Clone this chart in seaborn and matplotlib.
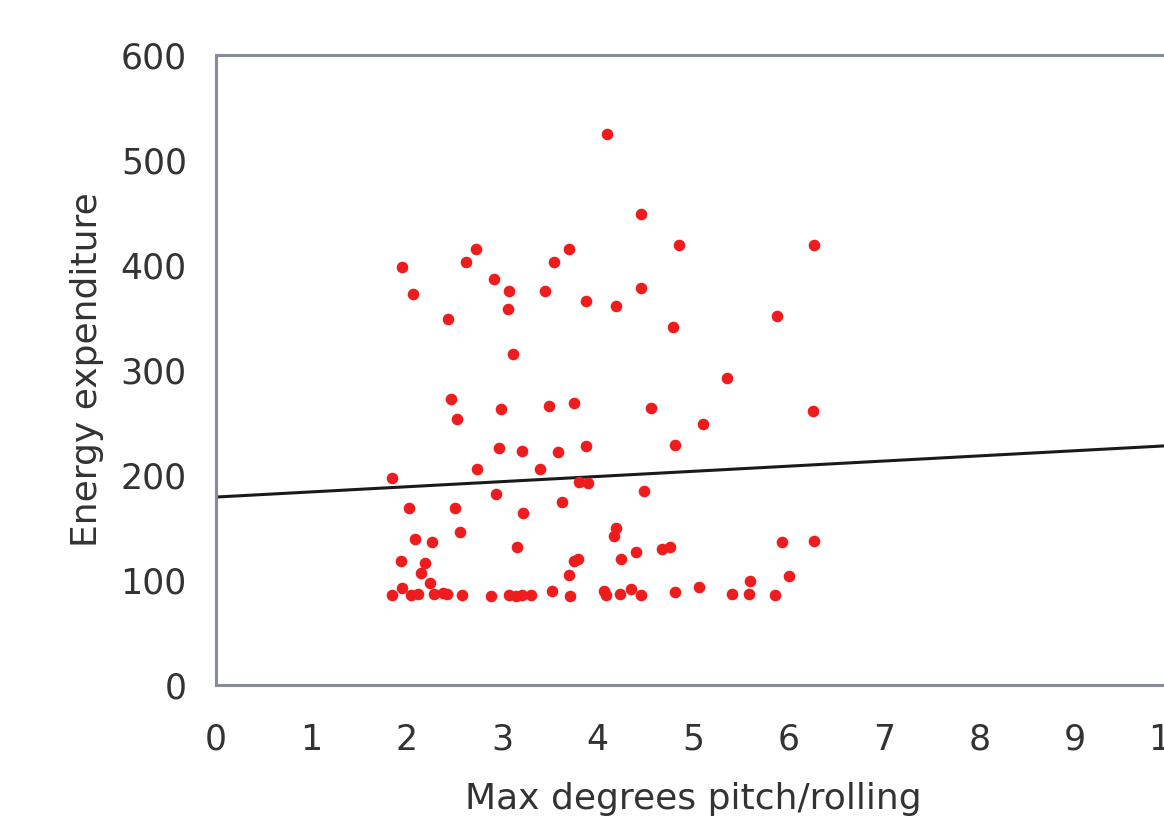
import matplotlib
matplotlib.use("Agg")
import matplotlib.pyplot as plt
import seaborn as sns

# values
pitch = [4.10, 1.95, 2.07, 2.43, 2.62, 2.73, 2.91, 3.07, 3.06, 3.45, 3.54, 3.70,
         3.88, 4.19, 4.46, 4.85, 6.27, 4.45, 4.79, 5.88,
         3.11, 2.46, 2.99, 3.49, 3.75, 2.53, 2.97, 3.21, 3.59, 3.88, 2.74, 3.40,
         1.85, 3.81, 3.90, 2.93, 2.02, 2.51, 3.63, 3.22, 2.56, 2.09, 2.26, 3.16,
         4.19, 4.17, 1.94, 2.19, 2.15, 3.79, 3.75, 3.70, 2.24, 1.95,
         1.85, 2.04, 2.12, 2.28, 2.38, 2.42, 2.58, 2.88, 3.07, 3.14, 3.21, 3.30,
         3.52, 3.71,
         5.36, 4.56, 6.26, 5.11, 4.81, 4.49, 4.25, 4.40, 4.67, 4.76, 5.93, 6.27,
         6.01, 5.60, 4.07, 4.09, 4.24, 4.35, 4.46, 4.81, 5.06, 5.41, 5.59, 5.86]
energy = [525, 398, 372, 349, 403, 415, 387, 375, 358, 375, 403, 415,
          366, 361, 449, 419, 419, 378, 341, 351,
          315, 272, 263, 266, 269, 253, 226, 223, 222, 228, 206, 206,
          197, 193, 192, 182, 169, 169, 174, 164, 146, 139, 136, 131,
          150, 142, 118, 116, 107, 120, 118, 105, 97, 92,
          86, 86, 87, 87, 88, 87, 86, 85, 86, 85, 86, 86,
          90, 85,
          292, 264, 261, 249, 229, 185, 120, 127, 130, 131, 136, 137,
          104, 99, 90, 86, 87, 91, 86, 89, 93, 87, 87, 86]

# trend line end points
line_x = [0, 10]
line_y = [179, 228]

sns.set_style("white")
plt.rcParams["font.family"] = ["DejaVu Sans"]

fig = plt.figure(figsize=(11.64, 8.27), dpi=100)
# axes run past the right edge, as in the cropped reference
ax = fig.add_axes([216 / 1164, 142 / 827, 954 / 1164, 630 / 827])

sns.scatterplot(x=pitch, y=energy, color="#ee1c1c", s=70, linewidth=0, ax=ax, zorder=3)
sns.lineplot(x=line_x, y=line_y, color="#1a1a1a", linewidth=2.2, ax=ax, zorder=2)

ax.set_xlim(0, 10)
ax.set_ylim(0, 600)
ax.set_xticks(range(0, 11))
ax.set_yticks(range(0, 601, 100))

for side in ["left", "bottom", "top", "right"]:
    ax.spines[side].set_color("#868b96")
    ax.spines[side].set_linewidth(2.2)

ax.tick_params(axis="both", colors="#e4e4e4", length=7, width=1,
               labelsize=25, labelcolor="#333333")
ax.tick_params(axis="x", pad=20)
ax.tick_params(axis="y", pad=14)
ax.set_xlabel("Max degrees pitch/rolling", fontsize=26, color="#333333", labelpad=18)
ax.set_ylabel("Energy expenditure", fontsize=26, color="#333333", labelpad=12)

fig.savefig("out.png", dpi=100)
